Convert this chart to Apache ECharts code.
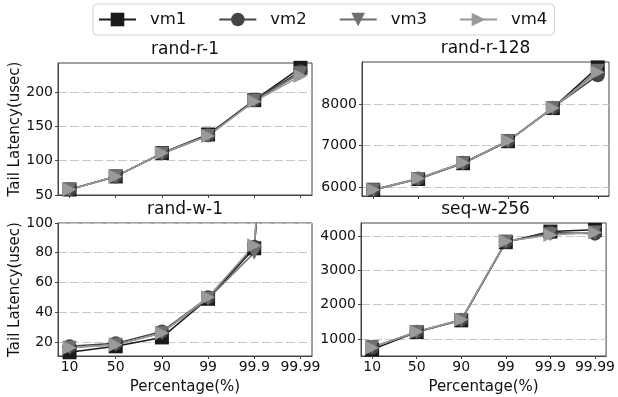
<!DOCTYPE html>
<html>
<head>
<meta charset="utf-8">
<script src="https://cdn.jsdelivr.net/npm/echarts@6/dist/echarts.min.js"></script>
<style>
  html, body { margin: 0; padding: 0; background: #fff; }
  #chart { width: 618px; height: 397px; }
</style>
</head>
<body>
<div id="chart"></div>
<script>
// percentiles on the x axis (shared by all panels)
const categories = ["10", "50", "90", "99", "99.9", "99.99"];
const vmNames = ["vm1", "vm2", "vm3", "vm4"];

// rand-r-1 (usec)
const randR1 = [
  [58, 77, 111, 138, 188, 235],
  [58, 77, 111, 137, 188, 230],
  [58, 77, 110, 136, 187, 227],
  [58, 77, 111, 136, 186, 223],
];
// rand-r-128
const randR128 = [
  [5930, 6190, 6570, 7100, 7900, 8880],
  [5930, 6200, 6580, 7110, 7910, 8690],
  [5920, 6190, 6570, 7100, 7900, 8800],
  [5930, 6200, 6580, 7110, 7900, 8760],
];
// rand-w-1 (99.99 runs off the top of the axis)
const randW1 = [
  [13, 17, 23, 49, 83, 500],
  [17, 19, 27, 50, 84, 450],
  [16, 18, 26, 49, 80, 600],
  [16, 18, 26, 50, 85, 550],
];
// seq-w-256
const seqW256 = [
  [690, 1200, 1540, 3820, 4130, 4180],
  [740, 1210, 1560, 3830, 4100, 4070],
  [760, 1200, 1550, 3840, 4050, 4100],
  [740, 1210, 1560, 3850, 4030, 4100],
];

const yTicksRandR1 = [50, 100, 150, 200];
const yTicksRandR128 = [6000, 7000, 8000];
const yTicksRandW1 = [20, 40, 60, 80, 100];
const yTicksSeqW256 = [1000, 2000, 3000, 4000];

const FONT = "DejaVu Sans";
const colors = ["#1a1a1a", "#454545", "#6e6e6e", "#9a9a9a"];
const symbols = ["rect", "circle", "triangle", "triangle"];
const rotations = [0, 0, 180, -90];

const panels = [
  { title: "rand-r-1", data: randR1, ticks: yTicksRandR1, min: 50, max: 242,
    grid: { left: 58, top: 63, width: 254, height: 132 }, yName: true, xLabels: false },
  { title: "rand-r-128", data: randR128, ticks: yTicksRandR128, min: 5780, max: 9010,
    grid: { left: 362, top: 62, width: 247, height: 134 }, yName: false, xLabels: false },
  { title: "rand-w-1", data: randW1, ticks: yTicksRandW1, min: 10.5, max: 100,
    grid: { left: 58, top: 223, width: 254, height: 133 }, yName: true, xLabels: true },
  { title: "seq-w-256", data: seqW256, ticks: yTicksSeqW256, min: 500, max: 4380,
    grid: { left: 361, top: 223, width: 249, height: 133 }, yName: false, xLabels: true },
];

const xIdx = categories.map((_, i) => i);

const chart = echarts.init(document.getElementById("chart"), null, { renderer: "canvas" });

chart.setOption({
  backgroundColor: "#fff",
  animation: false,
  textStyle: { fontFamily: FONT },
  title: panels.map((p) => ({
    text: p.title,
    left: p.grid.left + p.grid.width / 2,
    top: p.grid.top - 22,
    textAlign: "center",
    padding: 0,
    textStyle: { fontFamily: FONT, fontSize: 17, fontWeight: "normal", color: "#111" },
  })),
  legend: {
    data: vmNames,
    left: 93, top: 4,
    padding: [7, 7, 7, 5],
    itemWidth: 37, itemHeight: 17, itemGap: 32,
    borderColor: "#d4d4d4", borderWidth: 1, borderRadius: 4,
    textStyle: { fontFamily: FONT, fontSize: 16.5, color: "#111", padding: [0, 0, 0, 9] },
  },
  grid: panels.map((p) => ({ ...p.grid, show: true, borderColor: "#444", borderWidth: 1, backgroundColor: "transparent" })),
  xAxis: panels.map((p, i) => ({
    type: "value", gridIndex: i, min: -0.25, max: 5.25,
    name: p.xLabels ? "Percentage(%)" : "",
    nameLocation: "middle", nameGap: 24,
    nameTextStyle: { fontFamily: FONT, fontSize: 15, color: "#111" },
    axisLine: { show: true, onZero: false, lineStyle: { color: "#444" } },
    axisTick: { show: true, length: 3, lineStyle: { color: "#444" }, customValues: xIdx },
    axisLabel: {
      show: p.xLabels, customValues: xIdx, margin: 4,
      fontFamily: FONT, fontSize: 14, color: "#111",
      formatter: (v) => categories[Math.round(v)],
    },
    splitLine: { show: false },
  })),
  yAxis: panels.map((p, i) => ({
    type: "value", gridIndex: i, min: p.min, max: p.max,
    name: p.yName ? "Tail Latency(usec)" : "",
    nameLocation: "middle", nameGap: 33,
    nameTextStyle: { fontFamily: FONT, fontSize: 15, color: "#111" },
    axisLine: { show: true, onZero: false, lineStyle: { color: "#444" } },
    axisTick: { show: true, length: 3, lineStyle: { color: "#444" }, customValues: p.ticks },
    axisLabel: {
      customValues: p.ticks, margin: 5, fontFamily: FONT, fontSize: 14, color: "#111",
      formatter: (v) => String(v),
    },
    splitLine: { show: true, lineStyle: { color: "#c8c8c8", type: [9, 3], width: 1 } },
  })),
  series: panels.flatMap((p, gi) =>
    p.data.map((vals, k) => ({
      name: vmNames[k], type: "line", xAxisIndex: gi, yAxisIndex: gi,
      data: vals.map((v, j) => [xIdx[j], v]),
      symbol: symbols[k], symbolSize: 14, symbolRotate: rotations[k],
      showAllSymbol: true, clip: true,
      lineStyle: { color: colors[k], width: 1.5 },
      itemStyle: { color: colors[k] },
      emphasis: { disabled: true },
    }))
  ),
});
</script>
</body>
</html>
